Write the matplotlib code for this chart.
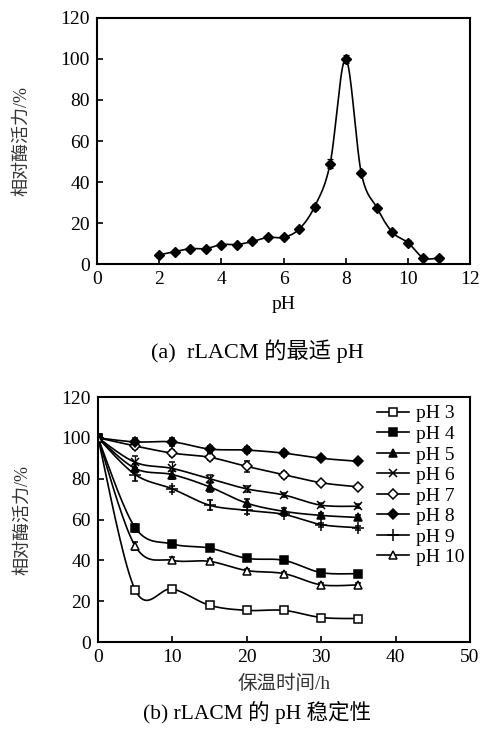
import numpy as np
import matplotlib
matplotlib.use("Agg")
import matplotlib.pyplot as plt

plt.rcParams['font.family'] = ['Liberation Serif', 'Noto Sans CJK SC']
plt.rcParams['xtick.direction'] = 'in'
plt.rcParams['ytick.direction'] = 'in'

# (a) optimum pH
ph = [2, 2.5, 3, 3.5, 4, 4.5, 5, 5.5, 6, 6.5, 7, 7.5, 8, 8.5, 9, 9.5, 10, 10.5, 11]
act = [4.5, 6, 7.5, 7.5, 9.5, 9.5, 11, 13, 13, 17, 28, 49, 100, 44.5, 27.5, 15.5, 10.5, 3, 3]
act_err = [0.8, 0.8, 0.8, 0.8, 0.8, 0.8, 0.8, 0.8, 0.8, 1, 1.5, 2, 2, 1, 1, 1, 1, 0.8, 0.8]

# (b) pH stability
hours = [0, 5, 10, 15, 20, 25, 30, 35]
labels = ['pH 3', 'pH 4', 'pH 5', 'pH 6', 'pH 7', 'pH 8', 'pH 9', 'pH 10']
ph3 = [100, 25.5, 26, 18, 15.5, 15.5, 12, 11.5]
ph4 = [100, 56, 48, 46, 41, 40, 34, 33.5]
ph5 = [100, 85, 82, 76, 68, 64, 62, 61]
ph6 = [100, 88, 85, 80, 75, 72, 67, 66.5]
ph7 = [100, 96, 92.5, 90.5, 86, 82, 78, 76]
ph8 = [100, 98, 98, 94.5, 94, 92.5, 90, 88.5]
ph9 = [100, 82, 75, 67, 64.5, 62.5, 57.5, 56]
ph10 = [100, 47, 40, 39.5, 35, 33.5, 28, 28]
err3 = [1, 1.5, 1.5, 1, 1, 1, 1, 1]
err4 = [1, 2, 1.5, 1, 1, 1.5, 1, 1]
err5 = [1, 2, 2, 2.5, 2, 1.5, 1, 1]
err6 = [1, 3, 3, 2, 1.5, 1, 1, 1]
err7 = [1, 1.5, 1.5, 1.5, 2.5, 1.5, 1, 1]
err8 = [1, 2, 2, 1.5, 1.5, 1.5, 1, 1]
err9 = [1, 3, 1.5, 2.5, 2, 1, 1, 1]
err10 = [1, 2, 1.5, 1, 1, 1, 1, 1]

series = [ph3, ph4, ph5, ph6, ph7, ph8, ph9, ph10]
errs = [err3, err4, err5, err6, err7, err8, err9, err10]
markers = ['s', 's', '^', 'x', 'D', 'D', '+', '^']
fills = ['white', 'black', 'black', 'black', 'white', 'black', 'black', 'white']
msizes = [6, 6, 6, 6, 5, 5.5, 8, 6]


def smooth(x, y, n=20):
    # Catmull-Rom style smoothing like spreadsheet "smoothed line"
    x = np.asarray(x, float)
    y = np.asarray(y, float)
    px = np.concatenate([[x[0]], x, [x[-1]]])
    py = np.concatenate([[y[0]], y, [y[-1]]])
    xs, ys = [], []
    for i in range(1, len(px) - 2):
        p0x, p1x, p2x, p3x = px[i - 1], px[i], px[i + 1], px[i + 2]
        p0y, p1y, p2y, p3y = py[i - 1], py[i], py[i + 1], py[i + 2]
        c1x = p1x + (p2x - p0x) / 6
        c1y = p1y + (p2y - p0y) / 6
        c2x = p2x - (p3x - p1x) / 6
        c2y = p2y - (p3y - p1y) / 6
        t = np.linspace(0, 1, n)
        xs.append((1 - t)**3 * p1x + 3 * (1 - t)**2 * t * c1x + 3 * (1 - t) * t**2 * c2x + t**3 * p2x)
        ys.append((1 - t)**3 * p1y + 3 * (1 - t)**2 * t * c1y + 3 * (1 - t) * t**2 * c2y + t**3 * p2y)
    return np.concatenate(xs), np.concatenate(ys)


fig = plt.figure(figsize=(4.81, 7.4), dpi=100)
ax1 = fig.add_axes([0.2017, 0.6432, 0.7755, 0.3325])
ax2 = fig.add_axes([0.2037, 0.1324, 0.7735, 0.3311])

# top panel
sx, sy = smooth(ph, act)
ax1.plot(sx, sy, color='black', lw=1.2)
ax1.errorbar(ph, act, yerr=act_err, fmt='D', color='black', ms=5.5,
             capsize=2.5, elinewidth=0.9, capthick=0.9)
ax1.set_xlim(0, 12)
ax1.set_ylim(0, 120)
ax1.set_xticks(range(0, 13, 2))
ax1.set_yticks(range(0, 121, 20))
ax1.set_xlabel('pH', fontsize=14, labelpad=6)
ax1.set_ylabel('相对酶活力/%', fontsize=13, color='#333333')
fig.text(0.535, 0.516, '(a)  rLACM 的最适 pH', ha='center', fontsize=16)

# bottom panel
for y, e, lab, m, fc, ms in zip(series, errs, labels, markers, fills, msizes):
    sx, sy = smooth(hours, y)
    ax2.plot(sx, sy, color='black', lw=1.2)
    ax2.errorbar(hours, y, yerr=e, fmt=m, color='black', mfc=fc, mec='black',
                 ms=ms, mew=1.1, capsize=2.5, elinewidth=0.9, capthick=0.9)
    ax2.plot([], [], color='black', marker=m, mfc=fc, mec='black', ms=ms,
             mew=1.1, lw=1.2, label=lab)
ax2.set_xlim(0, 50)
ax2.set_ylim(0, 120)
ax2.set_xticks(range(0, 51, 10))
ax2.set_yticks(range(0, 121, 20))
ax2.set_xlabel('保温时间/h', fontsize=14, labelpad=6, color='#333333')
ax2.set_ylabel('相对酶活力/%', fontsize=13, color='#333333')
ax2.legend(loc='upper left', frameon=False, fontsize=14, handlelength=1.65,
           handletextpad=0.36, labelspacing=0.15, borderaxespad=0, borderpad=0,
           bbox_to_anchor=(0.75, 0.968))
fig.text(0.535, 0.028, '(b) rLACM 的 pH 稳定性', ha='center', fontsize=15.5)

for ax in (ax1, ax2):
    for sp in ax.spines.values():
        sp.set_linewidth(1.5)
    ax.tick_params(labelsize=14, length=4, width=1.2, pad=5)
    ax.yaxis.set_label_coords(-0.18, 0.5)

fig.savefig('out.png', dpi=100)
